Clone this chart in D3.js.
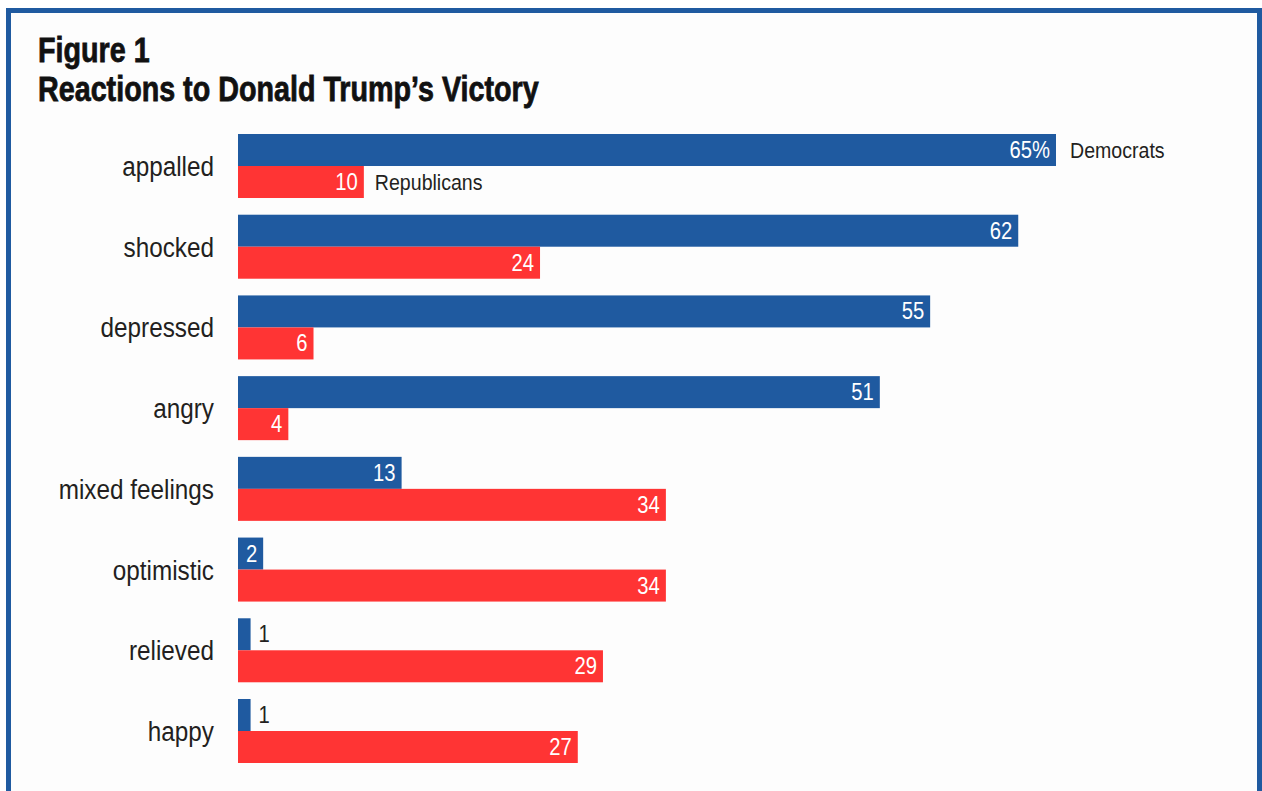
<!DOCTYPE html>
<html>
<head>
<meta charset="utf-8">
<script src="https://cdn.jsdelivr.net/npm/d3@7"></script>
<style>
  html, body { margin: 0; padding: 0; background: #ffffff; }
  svg { display: block; }
  text { font-family: "Liberation Sans", Arial, Helvetica, sans-serif; }
</style>
</head>
<body>
<svg id="chart" width="1262" height="791"></svg>
<script>
// Share of each party reporting each reaction (%)
const categories = ["appalled", "shocked", "depressed", "angry", "mixed feelings", "optimistic", "relieved", "happy"];
const democrats = [65, 62, 55, 51, 13, 2, 1, 1];
const republicans = [10, 24, 6, 4, 34, 34, 29, 27];
const seriesNames = ["Democrats", "Republicans"];
const titleLines = ["Figure 1", "Reactions to Donald Trump\u2019s Victory"];

const W = 1262, H = 791;
const BLUE = "#1f5aa0", RED = "#ff3434", TEXT = "#231f20";

const svg = d3.select("#chart");

// Condensed type: place text at (px, py) and squeeze horizontally
const narrow = (px, py, k) => `translate(${px},${py}) scale(${k},1)`;

// Frame
svg.append("rect")
  .attr("x", 8.5).attr("y", 10.5)
  .attr("width", 1251).attr("height", H + 20)
  .attr("fill", "#fdfdfd")
  .attr("stroke", BLUE).attr("stroke-width", 5);

// Title
svg.selectAll("text.title").data(titleLines).join("text")
  .attr("class", "title")
  .attr("transform", (d, i) => narrow(38, 62 + i * 39, 0.82))
  .attr("font-size", 35)
  .attr("font-weight", "bold")
  .attr("stroke", "#111").attr("stroke-width", 0.8)
  .attr("fill", "#111")
  .text(d => d);

const x = d3.scaleLinear().domain([0, 65]).range([238, 1056]);
const y = d3.scaleBand().domain(categories).range([134, 763]).paddingInner(0.207).paddingOuter(0);
const half = y.bandwidth() / 2;

const rows = categories.map((c, i) => ({ c, vals: [democrats[i], republicans[i]] }));

// Category labels
svg.selectAll("text.cat").data(categories).join("text")
  .attr("class", "cat")
  .attr("transform", d => narrow(214, y(d) + half + 10, 0.9))
  .attr("text-anchor", "end")
  .attr("font-size", 27)
  .attr("fill", TEXT)
  .text(d => d);

const g = svg.selectAll("g.row").data(rows).join("g").attr("class", "row")
  .attr("transform", d => `translate(0,${y(d.c)})`);

const bars = g.selectAll("g.bar").data((d, ri) => d.vals.map((v, si) => ({ v, si, ri })))
  .join("g").attr("class", "bar");

bars.append("rect")
  .attr("x", x(0))
  .attr("y", d => d.si * half)
  .attr("width", d => x(d.v) - x(0))
  .attr("height", half)
  .attr("fill", d => d.si === 0 ? BLUE : RED);

// Value labels: inside the bar in white, outside in dark when the bar is too short
bars.append("text")
  .attr("font-size", 23)
  .attr("transform", d => narrow(d.v >= 2 ? x(d.v) - 6 : x(d.v) + 8, d.si * half + half / 2 + 8, 0.88))
  .attr("text-anchor", d => d.v >= 2 ? "end" : "start")
  .attr("fill", d => d.v >= 2 ? "#fff" : TEXT)
  .text(d => d.ri === 0 && d.si === 0 ? d.v + "%" : d.v);

// Series names beside the first group
svg.selectAll("text.series").data(seriesNames).join("text")
  .attr("class", "series")
  .attr("font-size", 22)
  .attr("fill", TEXT)
  .attr("transform", (d, i) => narrow(
    x(i === 0 ? democrats[0] : republicans[0]) + (i === 0 ? 14 : 11),
    y(categories[0]) + i * half + half / 2 + 8, 0.89))
  .text(d => d);
</script>
</body>
</html>
